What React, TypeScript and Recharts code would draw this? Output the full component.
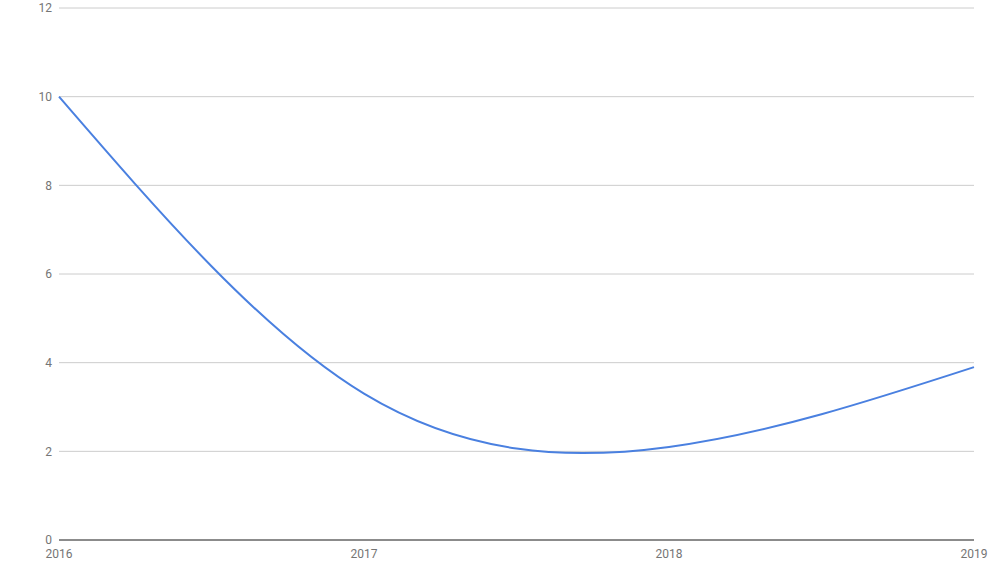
import { LineChart, Line, XAxis, YAxis, CartesianGrid } from "recharts";

const years = [2016, 2017, 2018, 2019];
const values = [10, 3.3, 2.1, 3.9];
const yTicks = [0, 2, 4, 6, 8, 10, 12];

const data = years.map((year, i) => ({ year, value: values[i] }));

const tickStyle = { fill: "#757575", fontSize: 12, fontFamily: "Roboto, sans-serif" };

export default function App() {
  return (
    <div style={{ position: "absolute", left: 0, top: 0, background: "#fff" }}>
      <LineChart
        width={1006}
        height={562}
        data={data}
        margin={{ top: 8, right: 32, left: 0, bottom: 0 }}
      >
        <CartesianGrid vertical={false} stroke="#cccccc" />
        <XAxis
          dataKey="year"
          type="number"
          domain={[2016, 2019]}
          ticks={years}
          height={22}
          tickSize={0}
          tickMargin={9}
          axisLine={{ stroke: "#333333" }}
          tick={tickStyle}
          interval={0}
        />
        <YAxis
          domain={[0, 12]}
          ticks={yTicks}
          width={59}
          tickSize={0}
          tickMargin={7}
          axisLine={false}
          tick={tickStyle}
          interval={0}
        />
        <Line
          type="natural"
          dataKey="value"
          stroke="#4a80e0"
          strokeWidth={2}
          dot={false}
          isAnimationActive={false}
        />
      </LineChart>
    </div>
  );
}
